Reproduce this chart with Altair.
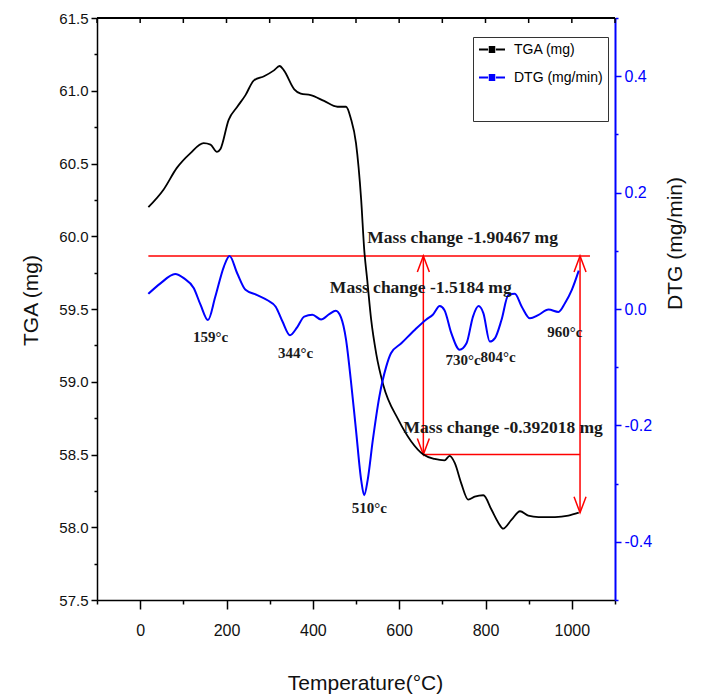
import altair as alt
import pandas as pd

# ---------------- data ----------------
tga_temp = [19, 54, 85, 116, 147, 163, 178, 186, 205, 225, 244, 263, 287, 310, 323, 333, 357, 372, 395, 426,
            457, 477, 488, 500, 512, 519, 526, 535, 547, 563, 598, 628, 656, 682, 705, 717, 729, 744, 760, 775,
            795, 814, 830, 841, 860, 880, 899, 923, 961, 992, 1016]
tga_mass = [60.20, 60.32, 60.47, 60.57, 60.64, 60.63, 60.58, 60.60, 60.80, 60.89, 60.97, 61.07, 61.10, 61.14,
            61.17, 61.14, 61.01, 60.98, 60.97, 60.93, 60.89, 60.89, 60.81, 60.64, 60.25, 59.91, 59.70, 59.43,
            59.19, 58.98, 58.74, 58.59, 58.50, 58.47, 58.46, 58.49, 58.44, 58.30, 58.19, 58.21, 58.22, 58.12,
            58.03, 57.99, 58.05, 58.11, 58.08, 58.07, 58.07, 58.08, 58.10]

dtg_temp = [19, 47, 81, 101, 124, 140, 157, 174, 194, 207, 225, 244, 271, 295, 314, 330, 347, 364, 380, 399,
            419, 438, 453, 465, 477, 488, 500, 512, 519, 527, 539, 554, 570, 581, 605, 636, 663, 678, 694, 705,
            721, 740, 756, 771, 784, 795, 810, 822, 837, 853, 868, 884, 903, 923, 946, 969, 984, 1000, 1016]
dtg_rate = [0.026, 0.044, 0.060, 0.053, 0.036, 0.007, -0.019, 0.021, 0.073, 0.091, 0.061, 0.033, 0.024, 0.015,
            0.004, -0.022, -0.045, -0.031, -0.013, -0.010, -0.018, -0.009, -0.003, -0.014, -0.053, -0.122,
            -0.208, -0.294, -0.320, -0.294, -0.225, -0.151, -0.099, -0.076, -0.059, -0.036, -0.018, -0.010,
            0.005, -0.002, -0.042, -0.070, -0.059, -0.013, 0.005, -0.007, -0.056, -0.050, -0.019, 0.024, 0.026,
            0.004, -0.016, -0.010, -0.001, -0.005, 0.010, 0.033, 0.066]

series_names = ["TGA (mg)", "DTG (mg/min)"]
series_colors = ["#000000", "#0000ff"]

ann_text = ["Mass change -1.90467 mg", "Mass change -1.5184 mg", "Mass change -0.392018 mg"]
ann_temp = [747, 650, 841]
ann_mass = [59.99, 59.645, 58.68]

peak_text = ["159°c", "344°c", "510°c", "730°c", "804°c", "960°c"]
peak_temp = [163, 360, 531, 748, 829, 984]
peak_mass = [59.31, 59.195, 58.13, 59.15, 59.17, 59.345]

# red mass-change guide lines (temperature / TGA units)
hline_x1 = [19, 656]
hline_x2 = [1042, 1019]
hline_y = [59.865, 58.50]
vline_x = [656, 1019]
vline_y1 = [59.865, 59.865]
vline_y2 = [58.50, 58.10]

x_ticks = list(range(-100, 1101, 100))
tga_ticks = [57.5 + 0.25 * i for i in range(17)]
dtg_ticks = [round(-0.5 + 0.1 * i, 1) for i in range(11)]

# ---------------- scales / axes ----------------
W, H = 518, 582
X_SCALE = alt.Scale(domain=[-100, 1100], nice=False, zero=False)
TGA_SCALE = alt.Scale(domain=[57.5, 61.5], nice=False, zero=False)
DTG_SCALE = alt.Scale(domain=[-0.5, 0.5], nice=False, zero=False)
COLOR_SCALE = alt.Scale(domain=series_names, range=series_colors)

FONT = "Liberation Sans"
SERIF = "Liberation Serif"

bottom_axis = alt.Axis(
    orient="bottom", values=x_ticks, grid=False,
    labelExpr="datum.value >= 0 && datum.value <= 1000 && datum.value % 200 == 0 ? '' + datum.value : ''",
    tickSize={"condition": {"test": "datum.value % 200 == 0", "value": 9}, "value": 4},
    labelPadding=13, labelFont=FONT, labelFontSize=16, labelColor="#111111",
    domainColor="#000000", domainWidth=1.5, tickColor="#000000", tickWidth=1.5,
    title="Temperature(°C)", titleFont=FONT, titleFontSize=21, titleFontWeight="normal",
    titleColor="#111111", titleX=268, titleY=83, titleAlign="center", titleBaseline="middle",
)
left_axis = alt.Axis(
    orient="left", values=tga_ticks, grid=False,
    labelExpr="abs(datum.value * 2 - round(datum.value * 2)) < 0.001 ? format(datum.value, '.1f') : ''",
    tickSize={"condition": {"test": "abs(datum.value * 2 - round(datum.value * 2)) < 0.001", "value": 6},
              "value": 3},
    labelPadding=3, labelFont=FONT, labelFontSize=15, labelColor="#111111",
    domainColor="#000000", domainWidth=1.5, tickColor="#000000", tickWidth=1.5,
    title="TGA (mg)", titleFont=FONT, titleFontSize=21, titleFontWeight="normal", titleColor="#111111",
    titleAngle=270, titleX=-66, titleY=282, titleAlign="center", titleBaseline="middle",
)
right_axis = alt.Axis(
    orient="right", values=dtg_ticks, grid=False,
    labelExpr="abs(datum.value * 5 - round(datum.value * 5)) < 0.001 ? replace(format(datum.value, '.1f'), '\u2212', '-') : ''",
    tickSize={"condition": {"test": "abs(datum.value * 5 - round(datum.value * 5)) < 0.001", "value": 6},
              "value": 3},
    labelPadding=3, labelFont=FONT, labelFontSize=16, labelColor="#0000ff",
    domainColor="#0000ff", domainWidth=2, tickColor="#0000ff", tickWidth=1.5,
    title="DTG (mg/min)", titleFont=FONT, titleFontSize=21, titleFontWeight="normal", titleColor="#111111",
    titleAngle=270, titleX=60, titleY=225, titleAlign="center", titleBaseline="middle",
)

LEG_SYM = ("M -1 0 H 0.4 M 1.6 0 H 3 "
           "M 0.5 -0.4 H 1.5 M 0.5 -0.2 H 1.5 M 0.5 0 H 1.5 M 0.5 0.2 H 1.5 M 0.5 0.4 H 1.5")
legend = alt.Legend(
    orient="none", legendX=376, legendY=19, title="\u00a0", titleOrient="bottom",
    titleFontSize=20, titlePadding=11, padding=5, rowPadding=13,
    fillColor="#ffffff", strokeColor="#333333",
    symbolType=LEG_SYM, symbolSize=169, symbolStrokeWidth=1.8, labelOffset=21,
    labelFont=FONT, labelFontSize=14, labelColor="#000000",
)

# ---------------- layers ----------------
tga_df = pd.DataFrame({"temp": tga_temp, "value": tga_mass, "series": series_names[0]})
dtg_df = pd.DataFrame({"temp": dtg_temp, "value": dtg_rate, "series": series_names[1]})
hr_df = pd.DataFrame({"x1": hline_x1, "x2": hline_x2, "y": hline_y})
vr_df = pd.DataFrame({"x": vline_x, "y1": vline_y1, "y2": vline_y2})
ann_df = pd.DataFrame({"temp": ann_temp, "mass": ann_mass, "label": ann_text})
peak_df = pd.DataFrame({"temp": peak_temp, "mass": peak_mass, "label": peak_text})
tick_df = pd.DataFrame({"t": x_ticks})

RED = "#ff0000"

# top frame line with inward ticks (mirror of the temperature axis)
top_frame = alt.Chart(tick_df).mark_rule(color="#000000", strokeWidth=1.5).encode(
    x=alt.value(0), x2=alt.value(W), y=alt.value(0)
)
top_ticks = alt.Chart(tick_df).mark_rule(color="#000000", strokeWidth=1.5).encode(
    x=alt.X("t:Q", scale=X_SCALE, axis=None), y=alt.value(0), y2=alt.value(5)
)

hrules = alt.Chart(hr_df).mark_rule(color=RED, strokeWidth=1.5).encode(
    x=alt.X("x1:Q", scale=X_SCALE, axis=None),
    x2="x2:Q",
    y=alt.Y("y:Q", scale=TGA_SCALE, axis=None),
)
vrules = alt.Chart(vr_df).mark_rule(color=RED, strokeWidth=1.5).encode(
    x=alt.X("x:Q", scale=X_SCALE, axis=None),
    y=alt.Y("y1:Q", scale=TGA_SCALE, axis=None),
    y2="y2:Q",
)
up_arrows = alt.Chart(vr_df).mark_point(
    shape="M -1.5 4 L 0 0 L 1.5 4", size=64, filled=False, color=RED, strokeWidth=1.5, opacity=1
).encode(
    x=alt.X("x:Q", scale=X_SCALE, axis=None),
    y=alt.Y("y1:Q", scale=TGA_SCALE, axis=None),
)
down_arrows = alt.Chart(vr_df).mark_point(
    shape="M -1.5 -4 L 0 0 L 1.5 -4", size=64, filled=False, color=RED, strokeWidth=1.5, opacity=1
).encode(
    x=alt.X("x:Q", scale=X_SCALE, axis=None),
    y=alt.Y("y2:Q", scale=TGA_SCALE, axis=None),
)

tga_line = alt.Chart(tga_df).mark_line(strokeWidth=1.8, interpolate="monotone").encode(
    x=alt.X("temp:Q", scale=X_SCALE, axis=bottom_axis),
    y=alt.Y("value:Q", scale=TGA_SCALE, axis=left_axis),
    color=alt.Color("series:N", scale=COLOR_SCALE, legend=legend),
)
dtg_line = alt.Chart(dtg_df).mark_line(strokeWidth=2, interpolate="monotone").encode(
    x=alt.X("temp:Q", scale=X_SCALE, axis=None),
    y=alt.Y("value:Q", scale=DTG_SCALE, axis=right_axis),
    color=alt.Color("series:N", scale=COLOR_SCALE, legend=legend),
)

ann = alt.Chart(ann_df).mark_text(
    font=SERIF, fontWeight="bold", fontSize=17.5, color="#1a1a1a", align="center", baseline="middle"
).encode(
    x=alt.X("temp:Q", scale=X_SCALE, axis=None),
    y=alt.Y("mass:Q", scale=TGA_SCALE, axis=None),
    text="label:N",
)
peaks = alt.Chart(peak_df).mark_text(
    font=SERIF, fontWeight="bold", fontSize=15, color="#1a1a1a", align="center", baseline="middle"
).encode(
    x=alt.X("temp:Q", scale=X_SCALE, axis=None),
    y=alt.Y("mass:Q", scale=TGA_SCALE, axis=None),
    text="label:N",
)

chart = (
    alt.layer(top_frame, top_ticks, hrules, vrules, up_arrows, down_arrows, tga_line, dtg_line, ann, peaks)
    .resolve_scale(y="independent")
    .resolve_axis(x="independent", y="independent")
    .properties(
        width=W, height=H,
        autosize=alt.AutoSizeParams(type="none"),
        padding={"left": 97, "top": 18, "right": 89, "bottom": 100},
        background="#ffffff",
    )
    .configure_view(strokeWidth=0)
)

chart.save("out.html", embed_options={"renderer": "svg", "actions": False})
